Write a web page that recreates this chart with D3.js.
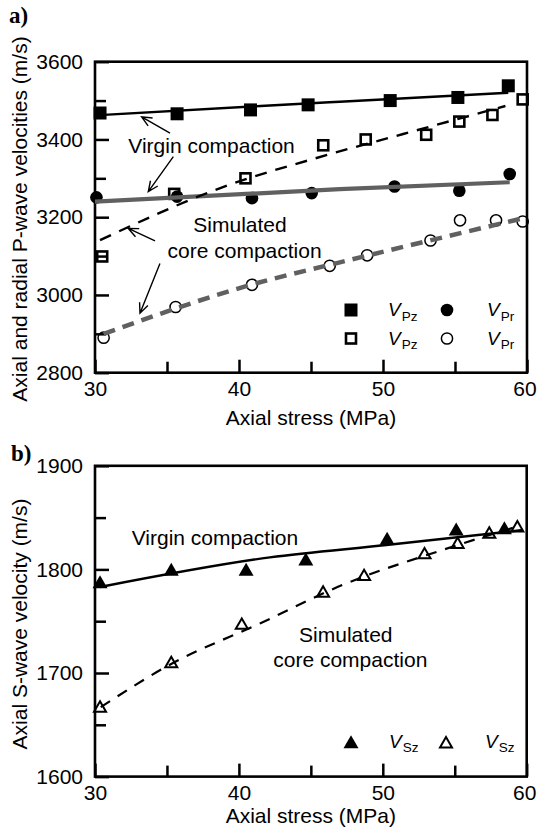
<!DOCTYPE html>
<html><head><meta charset="utf-8">
<script src="https://cdn.jsdelivr.net/npm/d3@7"></script>
<style>body{margin:0;background:#fff}svg{display:block}</style>
</head><body><svg id="c" width="537" height="832"></svg>
<script>
// ---------- data ----------
const xTicksMajor = [30, 40, 50, 60];
const xTicksMinor = [35, 45, 55];
const aYTicksMajor = [2800, 3000, 3200, 3400, 3600];
const aYTicksMinor = [2900, 3100, 3300, 3500];
const bYTicksMajor = [1600, 1700, 1800, 1900];
const bYTicksMinor = [1650, 1750, 1850];

// panel a: P-wave
const vpzVirginStress = [30.35, 35.7, 40.8, 44.8, 50.5, 55.2, 58.7];
const vpzVirgin       = [3468, 3466, 3476, 3489, 3500, 3508, 3538];
const vprVirginStress = [30.1, 35.7, 40.9, 45.05, 50.8, 55.3, 58.8];
const vprVirgin       = [3251, 3253, 3249, 3262, 3279, 3268, 3311];
const vpzSimStress    = [30.5, 35.5, 40.45, 45.85, 48.8, 53.0, 55.3, 57.6, 59.7];
const vpzSim          = [3099, 3260, 3300, 3385, 3400, 3412, 3446, 3463, 3503];
const vprSimStress    = [30.6, 35.6, 40.9, 46.3, 48.9, 53.3, 55.35, 57.85, 59.7];
const vprSim          = [2890, 2969, 3026, 3075, 3102, 3140, 3192, 3192, 3189];

// fitted trends
const fitVpzVirginStress = [30.0, 41.5, 47.0, 58.7];
const fitVpzVirgin       = [3462, 3486, 3497, 3520];
const fitVprVirginStress = [30.0, 47.0, 58.8];
const fitVprVirgin       = [3240, 3272, 3290];
const fitVpzSimStress    = [30.35, 38.7, 46.3, 51.4, 58.5];
const fitVpzSim          = [3141, 3275, 3362, 3414, 3486];
const fitVprSimStress    = [30.6, 41.2, 46.8, 59.7];
const fitVprSim          = [2900, 3030, 3082, 3197];

// panel b: S-wave
const vszVirginStress = [30.35, 35.3, 40.5, 44.65, 50.3, 55.1, 58.45];
const vszVirgin       = [1786, 1798, 1798, 1808, 1828, 1837, 1838];
const vszSimStress    = [30.35, 35.3, 40.2, 45.85, 48.7, 52.9, 55.2, 57.4, 59.35];
const vszSim          = [1666, 1709, 1746, 1777, 1793, 1814, 1824, 1834, 1840];
const fitVszVirginStress = [30.35, 42.15, 50.25, 59.75];
const fitVszVirgin       = [1783, 1811.6, 1823.5, 1838];
const fitVszSimStress    = [30.4, 35.2, 41.5, 47.2, 54.2, 59.5];
const fitVszSim          = [1667, 1708, 1748, 1785, 1819, 1842];

// annotation arrows panel a (tail -> head, in data units)
const arrowTailStress = [35.21, 35.44, 34.17, 34.51];
const arrowTailVel    = [3416, 3356, 3139, 3081];
const arrowHeadStress = [33.24, 33.70, 32.31, 33.125];
const arrowHeadVel    = [3458, 3266, 3171, 2953];

// ---------- drawing ----------
const FONT = '"Liberation Sans", Arial, Helvetica, sans-serif';
const GRAY = '#606060';
const svg = d3.select('#c');
const zip = (a, b) => a.map((v, i) => [v, b[i]]);

function makePanel(o) {
  const x = d3.scaleLinear().domain([30, 60]).range([o.left, o.right]);
  const y = d3.scaleLinear().domain(o.yDomain).range([o.bottom, o.top]);
  const g = svg.append('g');

  const gx = g.append('g').attr('transform', `translate(0,${o.bottom})`);
  gx.call(d3.axisBottom(x).tickValues(xTicksMajor).tickSizeInner(-13).tickSizeOuter(0)
    .tickPadding(8.5).tickFormat(d3.format('d')));
  const gx2 = g.append('g').attr('transform', `translate(0,${o.bottom})`);
  gx2.call(d3.axisBottom(x).tickValues(xTicksMinor).tickSizeInner(-11).tickSizeOuter(0).tickFormat(''));
  const gy = g.append('g').attr('transform', `translate(${o.left},0)`);
  gy.call(d3.axisLeft(y).tickValues(o.yMajor).tickSizeInner(-14).tickSizeOuter(0)
    .tickPadding(12).tickFormat(d3.format('d')));
  const gy2 = g.append('g').attr('transform', `translate(${o.left},0)`);
  gy2.call(d3.axisLeft(y).tickValues(o.yMinor).tickSizeInner(-11).tickSizeOuter(0).tickFormat(''));
  [gx, gx2, gy, gy2].forEach(a => {
    a.select('.domain').remove();
    a.selectAll('line').attr('stroke', '#000').attr('stroke-width', 2.5);
    a.selectAll('text').attr('font-family', FONT).attr('font-size', 21).attr('fill', '#000');
  });
  // keep the last x label inside the page
  gx.selectAll('.tick').filter(d => d === 60).select('text').attr('x', -2.5);

  g.append('rect').attr('x', o.left).attr('y', o.top)
    .attr('width', o.right - o.left).attr('height', o.bottom - o.top)
    .attr('fill', 'none').attr('stroke', '#000').attr('stroke-width', 2.6);

  g.append('text').attr('x', (o.left + o.right) / 2).attr('y', o.xTitleY)
    .attr('text-anchor', 'middle').attr('font-family', FONT).attr('font-size', 21)
    .text('Axial stress (MPa)');
  g.append('text').attr('transform', `translate(26.5,${o.yTitleC}) rotate(-90)`)
    .attr('text-anchor', 'middle').attr('font-family', FONT).attr('font-size', 21)
    .text(o.yTitle);
  g.append('text').attr('x', o.labX).attr('y', o.labY)
    .attr('font-family', '"Liberation Serif", "Times New Roman", serif')
    .attr('font-weight', 'bold').attr('font-size', 23).text(o.label);
  return {x, y, g};
}

function drawLine(p, xs, ys, color, width, dash) {
  p.g.append('path').datum(zip(xs, ys))
    .attr('d', d3.line().x(d => p.x(d[0])).y(d => p.y(d[1])).curve(d3.curveMonotoneX))
    .attr('fill', 'none').attr('stroke', color).attr('stroke-width', width)
    .attr('stroke-dasharray', dash || null);
}
function squares(p, xs, ys, filled) {
  const s = filled ? 13 : 10;
  p.g.append('g').selectAll('rect').data(zip(xs, ys)).join('rect')
    .attr('x', d => p.x(d[0]) - s / 2).attr('y', d => p.y(d[1]) - s / 2)
    .attr('width', s).attr('height', s)
    .attr('fill', filled ? '#000' : 'none').attr('stroke', '#000')
    .attr('stroke-width', filled ? 0 : 2.6);
}
function circles(p, xs, ys, filled) {
  p.g.append('g').selectAll('circle').data(zip(xs, ys)).join('circle')
    .attr('cx', d => p.x(d[0])).attr('cy', d => p.y(d[1]))
    .attr('r', filled ? 6.3 : 5.6)
    .attr('fill', filled ? '#000' : 'none').attr('stroke', '#000')
    .attr('stroke-width', filled ? 0 : 1.5);
}
const triFilled = d3.symbol().type(d3.symbolTriangle).size(0.433 * 15 * 15);
const triOpen = d3.symbol().type(d3.symbolTriangle).size(0.433 * 12 * 12);
function triangles(p, xs, ys, filled) {
  p.g.append('g').selectAll('path').data(zip(xs, ys)).join('path')
    .attr('transform', d => `translate(${p.x(d[0])},${p.y(d[1])})`)
    .attr('d', filled ? triFilled : triOpen)
    .attr('fill', filled ? '#000' : 'none').attr('stroke', '#000')
    .attr('stroke-width', filled ? 0 : 2);
}
function annot(p, xv, yv, txt, anchor) {
  p.g.append('text').attr('x', p.x(xv)).attr('y', p.y(yv))
    .attr('text-anchor', anchor).attr('font-family', FONT).attr('font-size', 21).text(txt);
}
function arrow(p, x1v, y1v, x2v, y2v) {
  const x1 = p.x(x1v), y1 = p.y(y1v), x2 = p.x(x2v), y2 = p.y(y2v);
  const a = Math.atan2(y2 - y1, x2 - x1), L = 11, s = 0.42;
  const path = d3.path();
  path.moveTo(x1, y1); path.lineTo(x2, y2);
  path.moveTo(x2 - L * Math.cos(a - s), y2 - L * Math.sin(a - s));
  path.lineTo(x2, y2);
  path.lineTo(x2 - L * Math.cos(a + s), y2 - L * Math.sin(a + s));
  p.g.append('path').attr('d', path.toString()).attr('fill', 'none')
    .attr('stroke', '#000').attr('stroke-width', 1.4);
}
function legendEntry(px, py, sub) {
  const t = svg.append('text').attr('x', px).attr('y', py)
    .attr('font-family', FONT).attr('font-size', 19);
  t.append('tspan').attr('font-style', 'italic').text('V');
  t.append('tspan').attr('font-size', 13.5).attr('dx', 1).attr('dy', 4.5).text(sub);
}

// ----- panel a -----
const A = makePanel({left: 95, right: 527, top: 61.7, bottom: 372.7, yDomain: [2800, 3600],
  yMajor: aYTicksMajor, yMinor: aYTicksMinor,
  yTitle: 'Axial and radial P-wave velocities (m/s)', yTitleC: 219,
  xTitleY: 425, label: 'a)', labX: 9, labY: 23});
squares(A, vpzVirginStress, vpzVirgin, true);
circles(A, vprVirginStress, vprVirgin, true);
squares(A, vpzSimStress, vpzSim, false);
circles(A, vprSimStress, vprSim, false);
drawLine(A, fitVpzVirginStress, fitVpzVirgin, '#000', 2.4);
drawLine(A, fitVprVirginStress, fitVprVirgin, GRAY, 4.2);
drawLine(A, fitVpzSimStress, fitVpzSim, '#000', 2.4, '12,9');
drawLine(A, fitVprSimStress, fitVprSim, GRAY, 4.5, '12,8');
annot(A, 32.31, 3364, 'Virgin compaction', 'start');
annot(A, 40.07, 3161, 'Simulated', 'middle');
annot(A, 40.39, 3094, 'core compaction', 'middle');
arrowTailStress.forEach((v, i) => arrow(A, v, arrowTailVel[i], arrowHeadStress[i], arrowHeadVel[i]));

// legend a
svg.append('rect').attr('x', 344.5).attr('y', 303.5).attr('width', 13).attr('height', 13).attr('fill', '#000');
svg.append('rect').attr('x', 346).attr('y', 333.5).attr('width', 10).attr('height', 10)
  .attr('fill', 'none').attr('stroke', '#000').attr('stroke-width', 2.6);
svg.append('circle').attr('cx', 447).attr('cy', 310).attr('r', 6.3).attr('fill', '#000');
svg.append('circle').attr('cx', 447).attr('cy', 338.5).attr('r', 5.6).attr('fill', 'none')
  .attr('stroke', '#000').attr('stroke-width', 1.5);
legendEntry(388, 316, 'Pz');
legendEntry(388, 344.5, 'Pz');
legendEntry(487, 316, 'Pr');
legendEntry(487, 344.5, 'Pr');

// ----- panel b -----
const B = makePanel({left: 95, right: 526.7, top: 465.8, bottom: 776.6, yDomain: [1600, 1900],
  yMajor: bYTicksMajor, yMinor: bYTicksMinor,
  yTitle: 'Axial S-wave velocity (m/s)', yTitleC: 624,
  xTitleY: 823, label: 'b)', labX: 11, labY: 461});
triangles(B, vszVirginStress, vszVirgin, true);
triangles(B, vszSimStress, vszSim, false);
drawLine(B, fitVszVirginStress, fitVszVirgin, '#000', 2.4);
drawLine(B, fitVszSimStress, fitVszSim, '#000', 2.2, '11,9');
annot(B, 32.55, 1823.5, 'Virgin compaction', 'start');
annot(B, 47.43, 1730, 'Simulated', 'middle');
annot(B, 47.74, 1706, 'core compaction', 'middle');

// legend b
svg.append('path').attr('transform', 'translate(351,744)').attr('d', triFilled).attr('fill', '#000');
svg.append('path').attr('transform', 'translate(446,744)').attr('d', triOpen)
  .attr('fill', 'none').attr('stroke', '#000').attr('stroke-width', 2);
legendEntry(389, 747.5, 'Sz');
legendEntry(485, 747.5, 'Sz');
</script></body></html>
